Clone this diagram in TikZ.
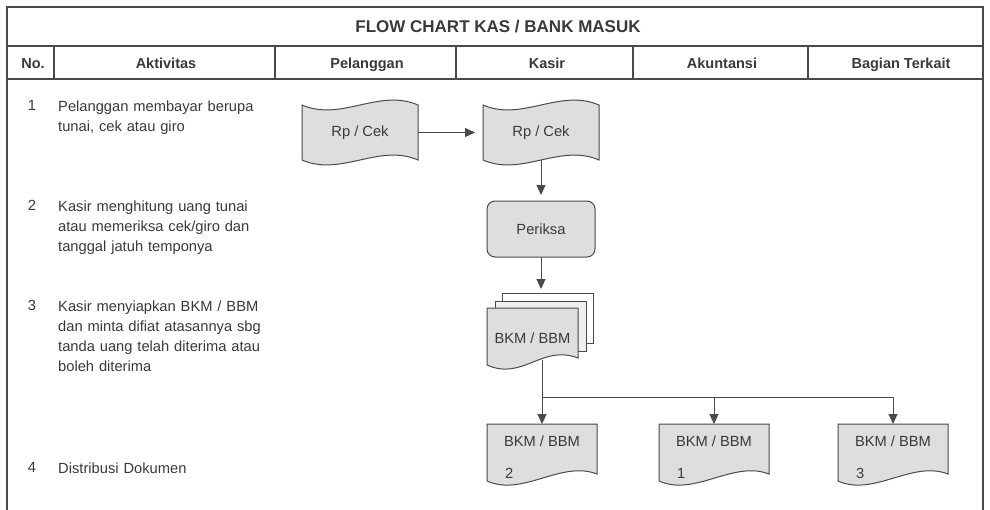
\documentclass[tikz,border=0pt]{standalone}
\usepackage{fontspec}
\setmainfont{Liberation Sans}
\usepackage{tikz}
\usetikzlibrary{arrows.meta, positioning, calc, backgrounds}
\definecolor{flowline}{HTML}{4A4A4A}
\definecolor{flowfill}{HTML}{DDDEE0}
\definecolor{flowtext}{HTML}{3A3A3A}
\definecolor{sheetfill}{HTML}{EFEFF0}
\newcommand{\flowfont}{\fontsize{14.7}{20}\selectfont}
\newcommand{\tapeline}[1]{%
  \draw[outline] (#1.north west) .. controls +(39,17) and +(-39,-17) .. (#1.north east)
    -- (#1.south east) .. controls +(-39,-17) and +(39,17) .. (#1.south west) -- cycle;}
\newcommand{\docline}[1]{%
  \draw[outline] (#1.north west) -- (#1.north east) -- ($(#1.south east)+(0,-10)$)
    .. controls +(-36,-14) and +(36,16) .. ($(#1.south west)+(0,-3)$) -- cycle;}
\tikzset{
  outline/.style={draw=flowline, fill=flowfill, line width=1pt},
  tape/.style={rectangle, minimum width=116pt, minimum height=55pt, inner sep=0pt,
    outer sep=0pt, text=flowtext, font=\flowfont},
  doc/.style={rectangle, minimum width=110pt, minimum height=60pt, inner sep=0pt,
    outer sep=0pt, text=flowtext, font=\flowfont},
  stackdoc/.style={doc, minimum width=91pt},
  sheet/.style={rectangle, draw=flowline, line width=1pt, minimum width=91pt,
    minimum height=50pt, inner sep=0pt, outer sep=0pt},
  proc/.style={rectangle, rounded corners=8pt, draw=flowline, fill=flowfill, line width=1pt,
    minimum width=108pt, minimum height=56pt, outer sep=0pt, text=flowtext, font=\flowfont},
  arrow/.style={-{Triangle[length=10pt,width=9pt]}, line width=1pt, flowline},
  link/.style={line width=1pt, flowline},
  frame/.style={line width=1.3pt, draw=flowline},
  title/.style={font=\bfseries\fontsize{17}{20}\selectfont, text=flowtext, anchor=base},
  head/.style={font=\bfseries\fontsize{14.5}{18}\selectfont, text=flowtext, anchor=base},
  nr/.style={font=\flowfont, text=flowtext, anchor=north, inner sep=0pt},
  desc/.style={font=\flowfont, text=flowtext, anchor=north west, inner sep=0pt,
    text width=220pt, align=left},
  txt/.style={font=\flowfont, text=flowtext, anchor=base, inner sep=0pt},
  numtxt/.style={font=\flowfont, text=flowtext, anchor=base west, inner sep=0pt}
}
\begin{document}
\begin{tikzpicture}[x=1pt, y=-1pt]
  \useasboundingbox (0,0) rectangle (990,509);
  \begin{scope}[on background layer]
    \fill[white] (0,0) rectangle (990,509);
  \end{scope}
  % table frame
  \draw[frame] (7,515) -- (7,7) -- (983,7) -- (983,515);
  \draw[frame] (7,46) -- (983,46);
  \draw[frame] (7,79) -- (983,79);
  \draw[frame] (54,46) -- (54,79);
  \draw[frame] (275,46) -- (275,79);
  \draw[frame] (456,46) -- (456,79);
  \draw[frame] (633,46) -- (633,79);
  \draw[frame] (808,46) -- (808,79);
  \node[title] (ttl) at (498,32.6) {FLOW CHART KAS / BANK MASUK};
  \node[head] (hno) at (33,68) {No.};
  \node[head] (hakt) at (166,68) {Aktivitas};
  \node[head] (hpel) at (367,68) {Pelanggan};
  \node[head] (hkas) at (547,68) {Kasir};
  \node[head] (hakun) at (722,68) {Akuntansi};
  \node[head] (hbag) at (901,68) {Bagian Terkait};
  % activities
  \node[nr] (n1) at (32,100.5) {1};
  \node[desc] (a1) at (58,100.5) {Pelanggan membayar berupa\\tunai, cek atau giro};
  \node[nr] (n2) at (32,200.5) {2};
  \node[desc] (a2) at (58,200.5) {Kasir menghitung uang tunai\\atau memeriksa cek/giro dan\\tanggal jatuh temponya};
  \node[nr] (n3) at (32,300.5) {3};
  \node[desc] (a3) at (58,300.5) {Kasir menyiapkan BKM / BBM\\dan minta difiat atasannya sbg\\tanda uang telah diterima atau\\boleh diterima};
  \node[nr] (n4) at (32,462.5) {4};
  \node[desc] (a4) at (58,462.5) {Distribusi Dokumen};
  % flow
  \node[tape] (rp1) at (360,132.5) {Rp / Cek};
  \node[tape] (rp2) at (541,132.5) {Rp / Cek};
  \node[proc] (periksa) at (541,229) {Periksa};
  \node[stackdoc] (bkm) at (532.5,338) {BKM / BBM};
  \node[doc] (d2) at (542,454) {};
  \node[doc] (d1) at (714,454) {};
  \node[doc] (d3) at (893,454) {};
  \node[txt] (d2t) at ($(d2.north)+(0,22)$) {BKM / BBM};
  \node[txt] (d1t) at ($(d1.north)+(0,22)$) {BKM / BBM};
  \node[txt] (d3t) at ($(d3.north)+(0,22)$) {BKM / BBM};
  \node[numtxt] (d2n) at ($(d2.north west)+(18,54)$) {2};
  \node[numtxt] (d1n) at ($(d1.north west)+(18,54)$) {1};
  \node[numtxt] (d3n) at ($(d3.north west)+(18,54)$) {3};
  \coordinate (split) at (542,397);
  \begin{scope}[on background layer]
    \tapeline{rp1}
    \tapeline{rp2}
    \node[sheet, fill=white] (bkmC) at (547.5,318) {};
    \node[sheet, fill=sheetfill] (bkmB) at (540.5,326) {};
    \docline{bkm}
    \docline{d2}
    \docline{d1}
    \docline{d3}
  \end{scope}
  \draw[arrow, shorten >=8pt] (rp1) -- (rp2);
  \draw[arrow, shorten >=6pt] (rp2) -- (periksa);
  \draw[arrow, shorten >=4pt] (periksa) -- (periksa |- bkmC.north);
  \draw[link] ($(split |- bkm.south)+(0,-8)$) -- (split) -- (split -| d3);
  \draw[arrow] (split) -- (d2);
  \draw[arrow] (split -| d1) -- (d1);
  \draw[arrow] (split -| d3) -- (d3);
\end{tikzpicture}
\end{document}
